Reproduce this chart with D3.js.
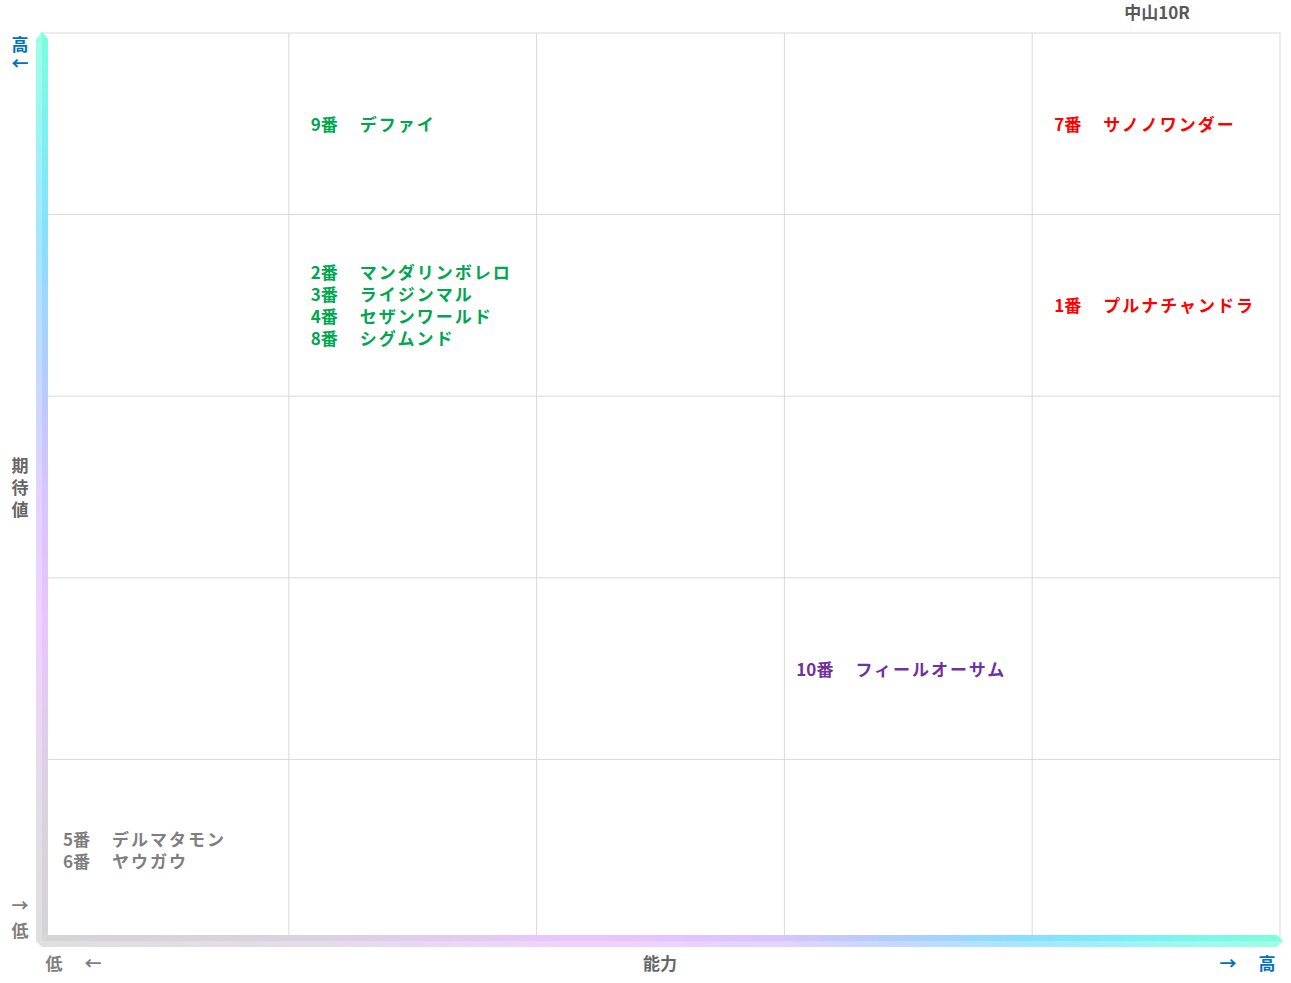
<!DOCTYPE html>
<html><head><meta charset="utf-8">
<script src="https://cdn.jsdelivr.net/npm/d3@7"></script>
<style>
html,body{margin:0;padding:0;background:#fff;}
svg text{font-family:"Noto Sans CJK JP","Noto Sans",sans-serif;font-weight:bold;}
</style></head>
<body>
<svg id="chart" width="1291" height="983"></svg>
<script>
// ---- data ----
const title = "中山10R";
const horseNumbers = ["9番", "2番", "3番", "4番", "8番", "7番", "1番", "10番", "5番", "6番"];
const horseNames = ["デファイ", "マンダリンボレロ", "ライジンマル", "セザンワールド", "シグムンド", "サノノワンダー", "プルナチャンドラ", "フィールオーサム", "デルマタモン", "ヤウガウ"];
const ability = [2, 2, 2, 2, 2, 5, 5, 4, 1, 1];      // 1..5 (能力)
const expectation = [5, 4, 4, 4, 4, 5, 4, 2, 1, 1];  // 1..5 (期待値)
const groupColor = ["#00a650", "#00a650", "#00a650", "#00a650", "#00a650", "#ff0000", "#ff0000", "#7030a0", "#7f7f7f", "#7f7f7f"];
const levels = [0, 1, 2, 3, 4, 5];
const xAxisTitle = "能力";
const yAxisTitle = ["期", "待", "値"];

// ---- layout ----
const svg = d3.select("#chart");
const L = 41, R = 1280, T = 33, B = 941;
const x = d3.scaleLinear().domain([0, 5]).range([L, R]);
const y = d3.scaleLinear().domain([0, 5]).range([B, T]);

// grid
const grid = svg.append("g");
grid.selectAll("line.v").data(levels).join("line")
  .attr("x1", d => x(d)).attr("x2", d => x(d)).attr("y1", T).attr("y2", B)
  .attr("stroke", "#d9d9d9").attr("stroke-width", 1);
grid.selectAll("line.h").data(levels).join("line")
  .attr("y1", d => y(d)).attr("y2", d => y(d)).attr("x1", L).attr("x2", R)
  .attr("stroke", "#d9d9d9").attr("stroke-width", 1);

// gradients
const defs = svg.append("defs");
const vg = defs.append("linearGradient").attr("id", "vg").attr("gradientUnits", "userSpaceOnUse")
  .attr("x1", 0).attr("x2", 0).attr("y1", B).attr("y2", T);
[[0, "#d4d4d4"], [0.15, "#dad2df"], [0.35, "#eac4ff"], [0.5, "#d8c4ff"], [0.62, "#b4ccff"], [0.78, "#86e0ff"], [0.9, "#7cf2f0"], [1, "#7cffdc"]]
  .forEach(s => vg.append("stop").attr("offset", s[0]).attr("stop-color", s[1]));
const hg = defs.append("linearGradient").attr("id", "hg").attr("gradientUnits", "userSpaceOnUse")
  .attr("x1", L).attr("x2", R).attr("y1", 0).attr("y2", 0);
[[0, "#d4d4d4"], [0.2, "#dad2df"], [0.45, "#eac4ff"], [0.6, "#d8c4ff"], [0.68, "#b4ccff"], [0.8, "#86e0ff"], [0.9, "#7cf2f4"], [1, "#7cffdc"]]
  .forEach(s => hg.append("stop").attr("offset", s[0]).attr("stop-color", s[1]));

// axis bars
const bw = 12, bx0 = 36, bx1 = bx0 + bw, by1 = 947, by0 = by1 - bw;
const line = d3.line();
svg.append("path").attr("fill", "url(#vg)")
  .attr("d", line([[bx0, T + 6], [bx0 + bw / 2, T - 1], [bx1, T + 6], [bx1, by0], [bx0 + 3, by1 - 3], [bx0, by1 - 6]]) + "Z");
svg.append("path").attr("fill", "url(#hg)")
  .attr("d", line([[bx0 + 3, by1 - 3], [bx1, by0], [R - 3, by0], [R + 3, by0 + bw / 2], [R - 3, by1], [bx0 + 6, by1]]) + "Z");
// light outer halves
svg.append("path").attr("fill", "#fff").attr("opacity", 0.25)
  .attr("d", line([[bx0, T + 6], [bx0 + bw / 2, T - 1], [bx0 + bw / 2, by1 - 6], [bx0 + 3, by1 - 3], [bx0, by1 - 6]]) + "Z");
svg.append("path").attr("fill", "#fff").attr("opacity", 0.25)
  .attr("d", line([[bx0 + 3, by1 - 3], [bx0 + 6, by0 + bw / 2], [R + 3, by0 + bw / 2], [R - 3, by1], [bx0 + 6, by1]]) + "Z");

// title
svg.append("text").attr("x", 1157).attr("y", 19).attr("text-anchor", "middle")
  .attr("font-size", 17).attr("fill", "#595959").text(title);

// axis annotation texts
const blue = "#0070c0", grey = "#7f7f7f";
svg.append("text").attr("x", 20).attr("y", 51).attr("text-anchor", "middle").attr("font-size", 17).attr("fill", blue).text("高");
svg.append("text").attr("x", 20).attr("y", 70).attr("text-anchor", "middle").attr("font-size", 17).attr("fill", blue).text("←");
svg.append("text").attr("x", 20).attr("y", 912).attr("text-anchor", "middle").attr("font-size", 17).attr("fill", grey).text("→");
svg.append("text").attr("x", 20).attr("y", 937).attr("text-anchor", "middle").attr("font-size", 17).attr("fill", grey).text("低");
svg.append("g").selectAll("text").data(yAxisTitle).join("text")
  .attr("x", 20).attr("y", (d, i) => 472 + i * 22).attr("text-anchor", "middle")
  .attr("font-size", 17).attr("fill", "#666").text(d => d);

svg.append("text").attr("x", 54).attr("y", 970).attr("text-anchor", "middle").attr("font-size", 17).attr("fill", grey).text("低");
svg.append("text").attr("x", 93).attr("y", 970).attr("text-anchor", "middle").attr("font-size", 17).attr("fill", grey).text("←");
svg.append("text").attr("x", 660).attr("y", 970).attr("text-anchor", "middle").attr("font-size", 17).attr("fill", "#666").text(xAxisTitle);
svg.append("text").attr("x", 1228).attr("y", 970).attr("text-anchor", "middle").attr("font-size", 17).attr("fill", blue).text("→");
svg.append("text").attr("x", 1267).attr("y", 970).attr("text-anchor", "middle").attr("font-size", 17).attr("fill", blue).text("高");

// labels
const horses = horseNumbers.map((n, i) => ({num: n, name: horseNames[i], a: ability[i], e: expectation[i], c: groupColor[i]}));
const cells = d3.group(horses, d => d.a + "-" + d.e);
const lh = 22;
const lab = svg.append("g");
cells.forEach(list => {
  list.forEach((d, k) => {
    const cy = y(d.e - 0.5) + (k - (list.length - 1) / 2) * lh + 7;
    const cx = x(d.a - 1);
    lab.append("text").attr("x", cx + 49).attr("y", cy).attr("text-anchor", "end")
      .attr("font-size", 17).attr("fill", d.c).text(d.num);
    lab.append("text").attr("x", cx + 71).attr("y", cy).attr("letter-spacing", 2)
      .attr("font-size", 17).attr("fill", d.c).text(d.name);
  });
});
</script>
</body></html>
